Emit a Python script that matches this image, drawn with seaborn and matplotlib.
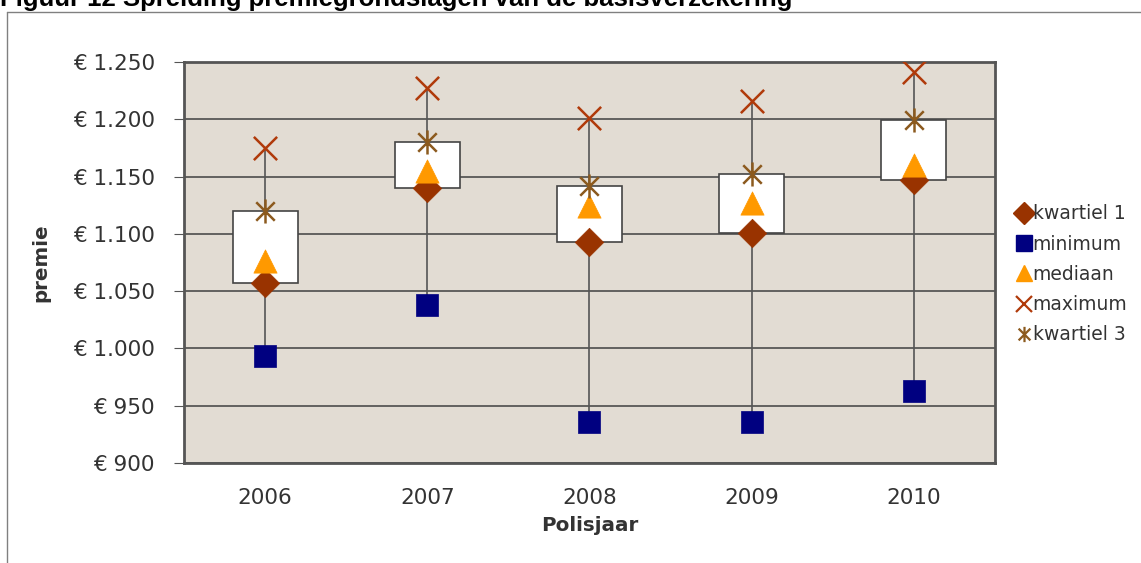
import numpy as np
import pandas as pd
import matplotlib
matplotlib.use("Agg")
import matplotlib.pyplot as plt
from matplotlib.path import Path
from matplotlib.lines import Line2D
import seaborn as sns

# --- DATA ---
jaren = ["2006", "2007", "2008", "2009", "2010"]
kwartiel_1 = [1057, 1140, 1093, 1101, 1147]
minimum = [993, 1038, 936, 936, 963]
mediaan = [1076, 1155, 1124, 1127, 1160]
maximum = [1175, 1227, 1201, 1216, 1241]
kwartiel_3 = [1120, 1180, 1142, 1152, 1199]
y_ticks = [900, 950, 1000, 1050, 1100, 1150, 1200, 1250]

sns.set_style("white")
plt.rcParams["font.family"] = ["DejaVu Sans"]

# Excel-achtige ster: kruis + verticale streep
ster = Path([(-1, -1), (1, 1), (-1, 1), (1, -1), (0, -1.3), (0, 1.3)],
            [Path.MOVETO, Path.LINETO, Path.MOVETO, Path.LINETO, Path.MOVETO, Path.LINETO])

df = pd.DataFrame({"jaar": jaren, "x": np.arange(len(jaren)),
                   "kwartiel 1": kwartiel_1, "minimum": minimum, "mediaan": mediaan,
                   "maximum": maximum, "kwartiel 3": kwartiel_3})

fig = plt.figure(figsize=(11.41, 5.63), dpi=100)
ax = fig.add_axes([0.1613, 0.1776, 0.7107, 0.7123])
ax.set_facecolor("#E2DCD3")

# hoog-laag lijnen
ax.vlines(df["x"], df["minimum"], df["maximum"], color="#555555", lw=1.2, zorder=2)
# boxen van kwartiel 1 tot kwartiel 3
ax.bar(df["x"], df["kwartiel 3"] - df["kwartiel 1"], bottom=df["kwartiel 1"], width=0.4,
       color="white", edgecolor="#444444", lw=1.2, zorder=3)

series = [
    ("kwartiel 1", "D", "#993300", 210, None),
    ("minimum", "s", "#000080", 260, None),
    ("mediaan", "^", "#FF9900", 280, None),
    ("maximum", "x", "#B03A0A", 280, 1.8),
    ("kwartiel 3", ster, "#8C5A1E", 300, 1.8),
]
handles = []
for naam, mk, kleur, grootte, lw in series:
    if lw is None:
        sns.scatterplot(data=df, x="x", y=naam, marker=mk, color=kleur, s=grootte,
                        edgecolor=kleur, linewidth=0.5, zorder=5, ax=ax, legend=False)
        handles.append(Line2D([], [], ls="", marker=mk, color=kleur, markersize=11, label=naam))
    else:
        sns.scatterplot(data=df, x="x", y=naam, marker=mk, color=kleur, s=grootte,
                        edgecolor=kleur, linewidth=lw, zorder=5, ax=ax, legend=False)
        handles.append(Line2D([], [], ls="", marker=mk, color=kleur, markersize=11,
                              markeredgewidth=1.6, label=naam))

ax.set_ylim(900, 1250)
ax.set_xlim(-0.5, 4.5)
ax.set_yticks(y_ticks)
ax.set_yticklabels(["€ " + f"{v:,}".replace(",", ".") for v in y_ticks], fontsize=15.5, color="#333333")
ax.set_xticks(df["x"])
ax.set_xticklabels(jaren, fontsize=15.5, color="#333333")
ax.set_xticks(np.arange(-0.5, 5, 1), minor=True)
ax.tick_params(axis="x", which="major", length=0, pad=18)
ax.tick_params(axis="x", which="minor", length=8, color="#555555", direction="out")
ax.tick_params(axis="y", length=7, color="#555555", direction="out", left=True, pad=14)
ax.yaxis.grid(True, color="#404040", lw=1.1, zorder=0)
ax.set_axisbelow(True)
for s in ax.spines.values():
    s.set_color("#555555")
    s.set_linewidth(2)

ax.set_xlabel("Polisjaar", fontsize=14.3, fontweight="bold", color="#333333", labelpad=6)
ax.set_ylabel("premie", fontsize=14.3, fontweight="bold", color="#333333", labelpad=16)

leg = fig.legend(handles=handles, loc="upper left", bbox_to_anchor=(0.877, 0.667),
                 frameon=False, fontsize=13.5, handlelength=0.7, handletextpad=0.1,
                 labelspacing=0.6, labelcolor="#333333")

# buitenkader
fig.add_artist(Line2D([7 / 1141, 7 / 1141], [0, 1 - 12 / 563], transform=fig.transFigure,
                      color="#808080", lw=1))
fig.add_artist(Line2D([7 / 1141, 1], [1 - 12 / 563, 1 - 12 / 563], transform=fig.transFigure,
                      color="#808080", lw=1))

fig.text(0.0, 1 - 6 / 563, "Figuur 12 Spreiding premiegrondslagen van de basisverzekering",
         fontsize=18.5, fontweight="bold", family=["Liberation Sans", "DejaVu Sans"],
         va="baseline", ha="left", color="black")

fig.savefig("out.png", dpi=100)
